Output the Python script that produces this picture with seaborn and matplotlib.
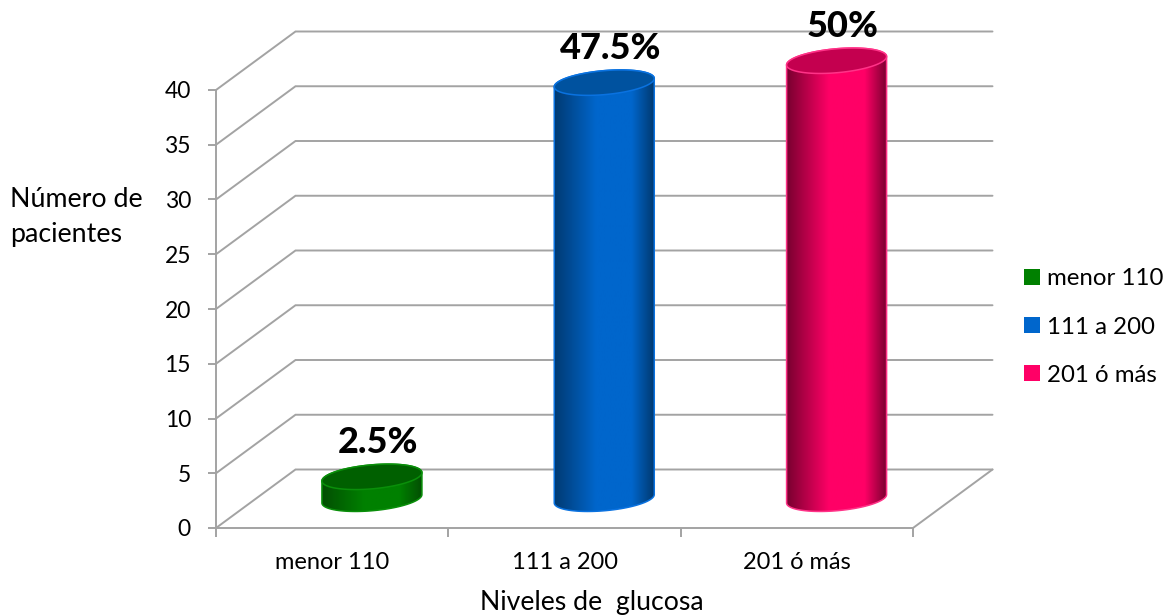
import numpy as np
import pandas as pd
import seaborn as sns
import matplotlib
matplotlib.use("Agg")
import matplotlib.pyplot as plt
from matplotlib.colors import LinearSegmentedColormap
from matplotlib.patches import Patch, PathPatch
from matplotlib.path import Path

# Patients by glucose level
categories = ["menor 110", "111 a 200", "201 ó más"]
patients = [2, 38, 40]
percent_labels = ["2.5%", "47.5%", "50%"]
y_ticks = [0, 5, 10, 15, 20, 25, 30, 35, 40]

base_colors = ["#008000", "#0066cc", "#ff0066"]
dark_colors = ["#034f03", "#003a72", "#7a0030"]
cap_colors = ["#006000", "#00529f", "#c4004f"]
rim_colors = ["#0a8f0a", "#0a72e0", "#ff3388"]
grid_color = "#a3a3a3"

FONT = "Lato"
W, H, DPI = 1173, 615, 100

sns.set_theme(style="white")
plt.rcParams["font.family"] = [FONT, "DejaVu Sans"]

fig = plt.figure(figsize=(W / DPI, H / DPI), dpi=DPI, facecolor="white")
ax = fig.add_axes([216 / W, (H - 528) / H, 697 / W, 438 / H])

frame = pd.DataFrame({"grupo": categories, "pacientes": patients})
sns.barplot(data=frame, x="grupo", y="pacientes", hue="grupo", palette=base_colors,
            saturation=1, width=0.43, legend=False, ax=ax, zorder=3)

ax.set_xlim(-0.5, 2.5)
ax.set_ylim(0, 40)
xu = 3 / 697   # data units per pixel, horizontally
yu = 40 / 438  # data units per pixel, vertically

# Depth of the floor, in pixels
depth_x, depth_y = 79.5, 58.5

# Back wall and side wall lines
for v in y_ticks:
    xs = [-0.5, -0.5 + depth_x * xu, 2.5 + depth_x * xu]
    ys = [v, v + depth_y * yu, v + depth_y * yu]
    ax.plot(xs, ys, color=grid_color, lw=1.4, clip_on=False, zorder=1,
            solid_joinstyle="miter")
ax.plot([2.5, 2.5 + depth_x * xu], [0, depth_y * yu], color=grid_color, lw=1.4,
        clip_on=False, zorder=1)


def ellipse_xy(cx, cy, t, half_w=50, half_h=12, tilt=4.2):
    """Points of a tilted ellipse, sized in pixels, centred on a data position."""
    px = half_w * np.cos(t)
    py = tilt * np.cos(t) + half_h * np.sin(t)
    return cx + px * xu, cy + py * yu


ramp_pos = [0, 0.42, 0.78, 1]

for i, bar in enumerate(ax.patches):
    cx = bar.get_x() + bar.get_width() / 2 + depth_x / 2 * xu
    base = depth_y / 2 * yu
    top = base + bar.get_height()
    half = bar.get_width() / 2

    # Outline of the cylinder: lower half of the base joined to the top rim
    t_low = np.linspace(np.pi, 2 * np.pi, 60)
    t_up = np.linspace(0, np.pi, 60)
    bx, by = ellipse_xy(cx, base, t_low)
    tx, ty = ellipse_xy(cx, top, t_up)
    verts = np.column_stack([np.r_[bx, tx], np.r_[by, ty]])
    outline = Path(np.vstack([verts, verts[0]]), closed=True)
    side = PathPatch(outline, facecolor="none", edgecolor=rim_colors[i], lw=1.1,
                     clip_on=False, zorder=5)
    ax.add_patch(side)

    # The categorical bar is moved onto the floor and clipped to the cylinder
    bar.set_y(base)
    bar.set_x(cx - half)
    bar.set_clip_box(fig.bbox)
    bar.set_clip_path(side)

    # Horizontal shading of the cylinder wall
    c0, c1 = dark_colors[i], base_colors[i]
    cmap = LinearSegmentedColormap.from_list(
        f"wall{i}", list(zip(ramp_pos, [c0, c1, c1, c0]))
    )
    shade = ax.imshow(np.linspace(0, 1, 128)[None, :], cmap=cmap, aspect="auto",
                      extent=[cx - half, cx + half, base - 15 * yu, top + 15 * yu],
                      zorder=4, interpolation="bilinear")
    shade.set_clip_box(fig.bbox)
    shade.set_clip_path(side)

    # Top face
    t = np.linspace(0, 2 * np.pi, 120)
    ex, ey = ellipse_xy(cx, top, t)
    ax.fill(ex, ey, facecolor=cap_colors[i], edgecolor=rim_colors[i], lw=1.1,
            clip_on=False, zorder=6)

    ax.text(cx + 6 * xu, top + 34 * yu, percent_labels[i], ha="center", va="center",
            fontsize=26, fontweight="black", color="black", clip_on=False, zorder=7)

ax.set_xlim(-0.5, 2.5)
ax.set_ylim(0, 40)

# Axes
for name in ["top", "right"]:
    ax.spines[name].set_visible(False)
for name in ["left", "bottom"]:
    ax.spines[name].set_color(grid_color)
    ax.spines[name].set_linewidth(1.4)

ax.set_yticks(y_ticks)
ax.set_xticks([-0.5, 0.5, 1.5, 2.5])
ax.set_xticklabels([])
ax.set_xticks([0, 1, 2], minor=True)
ax.set_xticklabels(categories, minor=True)
ax.tick_params(axis="y", left=True, length=6, width=1.4, color=grid_color,
               pad=12, labelsize=16.5, labelcolor="black")
ax.tick_params(axis="x", which="major", bottom=True, length=6.5, width=1.4, color=grid_color)
ax.tick_params(axis="x", which="minor", bottom=False, length=0, pad=17,
               labelsize=17, labelcolor="black")

ax.set_xlabel("Niveles de  glucosa", fontsize=19.2, color="black", va="center")
ax.xaxis.set_label_coords(0.5385, -0.171)
ax.set_ylabel("Número de\npacientes", rotation=0, fontsize=19.3, color="black",
              ha="left", va="center", multialignment="left", linespacing=1.5)
ax.yaxis.set_label_coords(-0.295, 0.71)

handles = [Patch(facecolor=c, edgecolor="none") for c in base_colors]
ax.legend(handles, categories, loc="center left", frameon=False,
          bbox_to_anchor=(1024 / W, (H - 327) / H), bbox_transform=fig.transFigure,
          fontsize=17.3, handlelength=0.67, handleheight=0.67, handletextpad=0.3,
          labelspacing=1.13, borderpad=0, borderaxespad=0, labelcolor="black")

fig.savefig("out.png", dpi=DPI, facecolor="white")
